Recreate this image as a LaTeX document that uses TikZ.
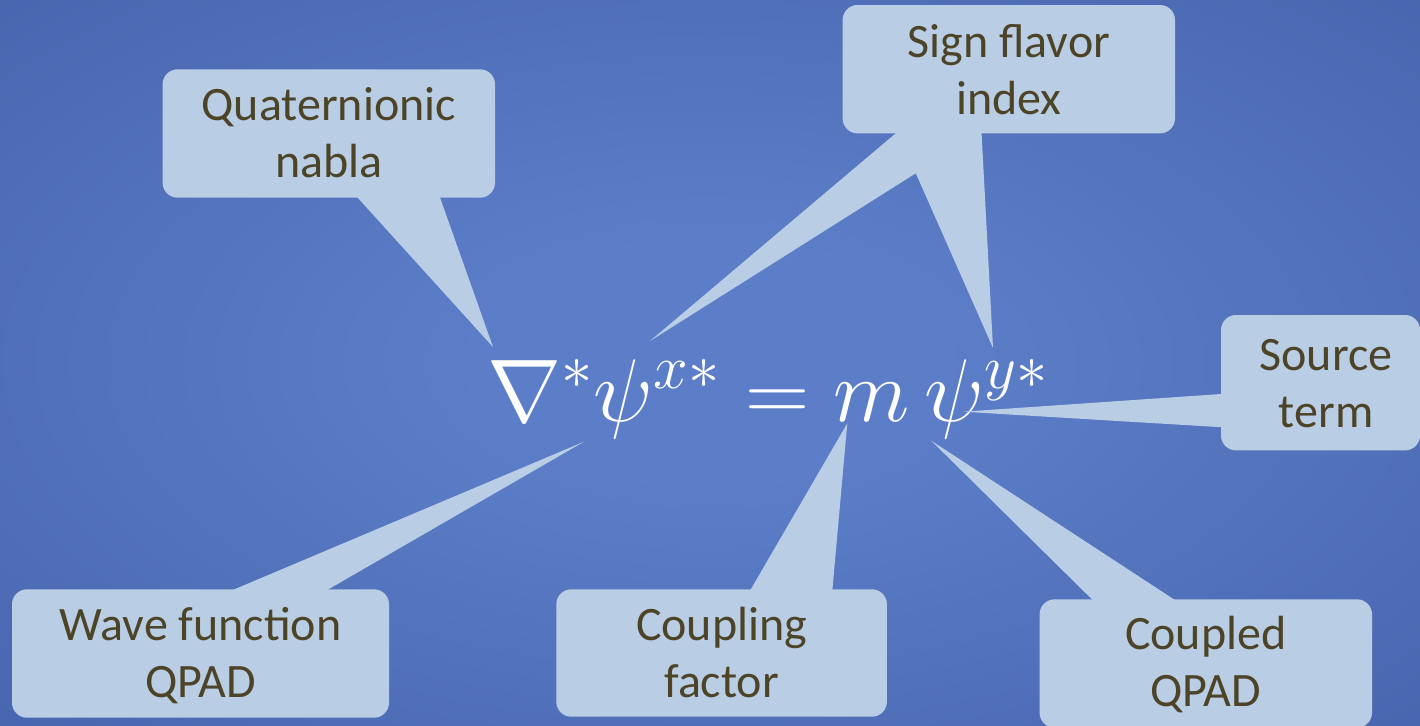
\documentclass[tikz,border=0pt]{standalone}
\usepackage{fix-cm}
\usepackage[no-math]{fontspec}
\setmainfont{Carlito}
\usetikzlibrary{calc}
\definecolor{bgc}{RGB}{92,126,200}
\definecolor{bgm}{RGB}{62,90,162}
\definecolor{bge}{RGB}{42,64,124}
\definecolor{boxc}{RGB}{185,205,228}
\definecolor{txtc}{RGB}{77,68,40}
\pgfdeclareradialshading{bgshade}{\pgfpoint{0bp}{0bp}}{color(0bp)=(bgc); color(8bp)=(bgc); color(50bp)=(bgm); color(71bp)=(bge)}
\newcommand\lblfont{\fontsize{24}{28.5}\selectfont}
\newcommand\eqfont{\fontsize{44.5}{52}\selectfont}
\tikzset{
  callout/.style={fill=boxc, draw=none, rounded corners=7.5pt, inner sep=0pt},
  lbl/.style={text=txtc, font=\lblfont, align=center, inner sep=0pt, anchor=base},
  eqn/.style={text=white, font=\eqfont, inner sep=0pt},
  wedge/.style={fill=boxc, draw=none}
}
\begin{document}
\begin{tikzpicture}[x=0.5pt, y=-0.5pt]
\useasboundingbox (0,0) rectangle (1420,725);
\shade[shading=bgshade] (0,0) rectangle (1420,725);

% equation
\node[eqn, anchor=base west] (eq) at (487,421) {$\nabla^{*}\psi^{x*}=m\,\psi^{y*}$};

% pointer tips
\coordinate (tqn) at (493,347);
\coordinate (tsf1) at (650,341);
\coordinate (tsf2) at (993,348);
\coordinate (tst) at (963,411.7);
\coordinate (twf) at (584,441.7);
\coordinate (tcf) at (847.3,423.3);
\coordinate (tcq) at (931.3,440.7);

% boxes
\node[callout, minimum width=166.2pt, minimum height=64.2pt] (qn) at (328.8,133.5) {};
\node[callout, minimum width=166.2pt, minimum height=64.2pt] (sf) at (1008.8,69.2) {};
\node[callout, minimum width=99.5pt, minimum height=67.7pt] (st) at (1320.5,382.7) {};
\node[callout, minimum width=188.5pt, minimum height=64.2pt] (wf) at (200.5,653.5) {};
\node[callout, minimum width=165.3pt, minimum height=63.7pt] (cf) at (721.6,653) {};
\node[callout, minimum width=166.2pt, minimum height=64.2pt] (cq) at (1205.8,663.5) {};

% wedges
\fill[wedge] ($(qn.south west)+(194,-2)$) -- (tqn) -- ($(qn.south west)+(277.3,-2)$) -- cycle;
\fill[wedge] ($(sf.south west)+(55.3,-2)$) -- (tsf1) -- ($(sf.south west)+(139.3,-2)$) -- cycle;
\fill[wedge] ($(sf.south west)+(55.3,-2)$) -- (tsf2) -- ($(sf.south west)+(139.3,-2)$) -- cycle;
\fill[wedge] ($(st.north west)+(2,79.3)$) -- (tst) -- ($(st.north west)+(2,112.7)$) -- cycle;
\fill[wedge] ($(wf.north west)+(219,2)$) -- (twf) -- ($(wf.north west)+(314,2)$) -- cycle;
\fill[wedge] ($(cf.north west)+(194,2)$) -- (tcf) -- ($(cf.north west)+(276.4,2)$) -- cycle;
\fill[wedge] ($(cq.north west)+(54.3,2)$) -- (tcq) -- ($(cq.north west)+(137.1,2)$) -- cycle;

% labels (base = baseline of the last line)
\node[lbl] (qnt) at ($(qn.north)+(0,109)$) {Quaternionic\\nabla};
\node[lbl] (sft) at ($(sf.north)+(0,110)$) {Sign flavor\\index};
\node[lbl] (stt) at ($(st.north)+(5.5,112.7)$) {Source\\term};
\node[lbl] (wft) at ($(wf.north)+(0,108.7)$) {Wave function\\QPAD};
\node[lbl] (cft) at ($(cf.north)+(0,108.9)$) {Coupling\\factor};
\node[lbl] (cqt) at ($(cq.north)+(0,107.4)$) {Coupled\\QPAD};
\end{tikzpicture}
\end{document}
